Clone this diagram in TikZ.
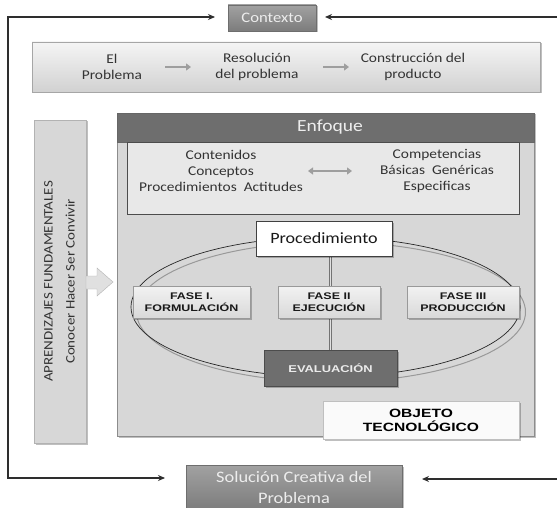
\documentclass[tikz,border=0pt]{standalone}
\usepackage{fontspec}
\setmainfont{Carlito}
\newfontfamily\calf[FakeStretch=1.15]{Carlito}
\newfontfamily\arif[FakeStretch=1.3]{Liberation Sans}
\usetikzlibrary{arrows.meta,shadows}
\definecolor{txtdark}{HTML}{333333}
\definecolor{linedark}{HTML}{2E2E2E}
\definecolor{boxgray}{HTML}{D7D7D7}
\definecolor{hdrgray}{HTML}{6E6E6E}
\definecolor{midgray}{HTML}{8A8A8A}
\pgfdeclarelayer{back}
\pgfdeclarelayer{mid}
\pgfsetlayers{back,mid,main}
\tikzset{
  boxbase/.style={inner sep=0pt, outer sep=0pt, align=center},
  shad/.style={drop shadow={shadow xshift=1.5pt,shadow yshift=-1.5pt,fill=black,opacity=0.25}},
  darkbox/.style={boxbase, draw=midgray!80!black, top color=midgray!80!white, bottom color=midgray!90!black, text=white!93!black, shad},
  lightband/.style={boxbase, draw=black!35, top color=black!4, bottom color=black!18, shad},
  fasebox/.style={boxbase, draw=black!40, top color=black!5, bottom color=black!15, shad, font=\arif\bfseries\fontsize{9.6}{12}\selectfont, text=black!90},
  loop/.style={draw=linedark, line width=1.3pt, -{Stealth[length=7pt,width=6pt]}},
  grayarrow/.style={draw=black!38, line width=2.6pt, -{Triangle[length=5pt,width=7pt]}},
  bandtxt/.style={font=\calf\fontsize{13.4}{16}\selectfont, text=txtdark, align=center, inner sep=0pt},
}
\begin{document}
\begin{tikzpicture}[x=1pt,y=-1pt]
\useasboundingbox (0,0) rectangle (557,508);
\begin{pgfonlayer}{back}
\fill[white] (0,0) rectangle (557,508);
\end{pgfonlayer}

% Contexto
\node[darkbox, minimum width=88pt, minimum height=26pt, font=\calf\fontsize{14.5}{16}\selectfont] (ctx) at (272,18) {Contexto};

% top band
\node[lightband, minimum width=508pt, minimum height=50pt] (band) at (286,67) {};
\node[bandtxt] (t1) at (112,67) {El\\Problema};
\node[bandtxt] (t2) at (257,67) {Resolución\\del problema};
\node[bandtxt] (t3) at (413,67) {Construcción del\\producto};
\coordinate (a1s) at (165,67);
\coordinate (a1e) at (191,67);
\coordinate (a2s) at (323,67);
\coordinate (a2e) at (349,67);
\draw[grayarrow] (a1s) -- (a1e);
\draw[grayarrow] (a2s) -- (a2e);

% left box
\node[boxbase, draw=black!30, fill=boxgray, shad, minimum width=52pt, minimum height=323pt] (lbox) at (60,281.5) {};
\node[rotate=90, align=center, font=\calf\fontsize{13}{22}\selectfont, text=txtdark, inner sep=0pt] (ltxt) at (59.5,281.5) {APRENDIZAJES FUNDAMENTALES\\Conocer Hacer Ser Convivir};

% block arrow
\draw[draw=black!30, fill=black!12] (86,276) -- (97,276) -- (97,268) -- (113,282) -- (97,296) -- (97,289) -- (86,289) -- cycle;

% main box
\begin{pgfonlayer}{back}
\node[boxbase, draw=black!45, fill=boxgray, shad, minimum width=417pt, minimum height=323pt] (main) at (325.5,274.5) {};
\end{pgfonlayer}
\node[boxbase, draw=black!60, fill=hdrgray, minimum width=417pt, minimum height=29pt] (hdr) at (325.5,127.5) {};
\node[font=\calf\fontsize{17}{19}\selectfont, text=white!93!black, inner sep=0pt] (enf) at (330,127.5) {Enfoque};

% inner box
\node[boxbase, draw=black!70, line width=0.9pt, fill=black!9, minimum width=392pt, minimum height=72pt] (inner) at (323,178) {};
\node[bandtxt] (lt) at (221,171) {Contenidos\\Conceptos\\Procedimientos\ \ Actitudes};
\node[bandtxt] (rt) at (437,171) {Competencias\\Básicas\ \ Genéricas\\Especificas};
\coordinate (d1) at (308,171);
\coordinate (d2) at (352,171);
\draw[draw=black!38, line width=2.6pt, {Triangle[length=5pt,width=7pt]}-{Triangle[length=5pt,width=7pt]}] (d1) -- (d2);

% ellipse
\begin{pgfonlayer}{mid}
\draw[black!40, line width=1pt] (331,312) ellipse (194.5 and 70);
\draw[black!85, line width=0.7pt] (325.5,307) ellipse (194.5 and 70);
\end{pgfonlayer}

% procedimiento
\node[boxbase, draw=black!75, fill=white, shad, minimum width=136pt, minimum height=35pt, font=\calf\fontsize{15.7}{17}\selectfont, text=black!90] (proc) at (324,238.5) {Procedimiento};

% fases
\node[fasebox, minimum width=117pt, minimum height=32pt] (f1) at (191.5,302) {FASE I.\\FORMULACIÓN};
\node[fasebox, minimum width=102pt, minimum height=32pt] (f2) at (329,302) {FASE II\\EJECUCIÓN};
\node[fasebox, minimum width=112pt, minimum height=32pt] (f3) at (463,302) {FASE III\\PRODUCCIÓN};

% evaluacion
\node[boxbase, draw=black!70, fill=hdrgray, shad, minimum width=133pt, minimum height=36pt, font=\arif\bfseries\fontsize{9.9}{12}\selectfont, text=white!92!black] (eval) at (330.5,368) {EVALUACIÓN};

\begin{pgfonlayer}{mid}
\draw[draw=black!55, double=black!12, double distance=1.6pt, line width=0.6pt] (eval.north |- proc.south) -- (eval.north);
\end{pgfonlayer}

% objeto
\node[boxbase, draw=black!25, fill=black!2, shad, minimum width=196pt, minimum height=38pt, font=\arif\bfseries\fontsize{12}{14}\selectfont, text=black] (obj) at (421,420) {OBJETO\\TECNOLÓGICO};

% solucion
\node[darkbox, minimum width=216pt, minimum height=45pt, font=\calf\fontsize{16}{21}\selectfont] (sol) at (294,487.5) {Solución Creativa del\\Problema};

% loop connectors
\coordinate (lcorner) at (8,478);
\coordinate (solin) at (165,478);
\coordinate (rtop) at (557,17);
\coordinate (rbot) at (557,479);
\coordinate (ctxr) at (325,17);
\coordinate (solr) at (422,479);
\coordinate (ctxl) at (215,17);
\draw[loop, {Stealth[length=7pt,width=6pt]}-{Stealth[length=7pt,width=6pt]}] (ctxl) -| (lcorner) -- (solin);
\draw[loop] (rtop) -- (ctxr);
\draw[loop] (rbot) -- (solr);
\end{tikzpicture}
\end{document}
